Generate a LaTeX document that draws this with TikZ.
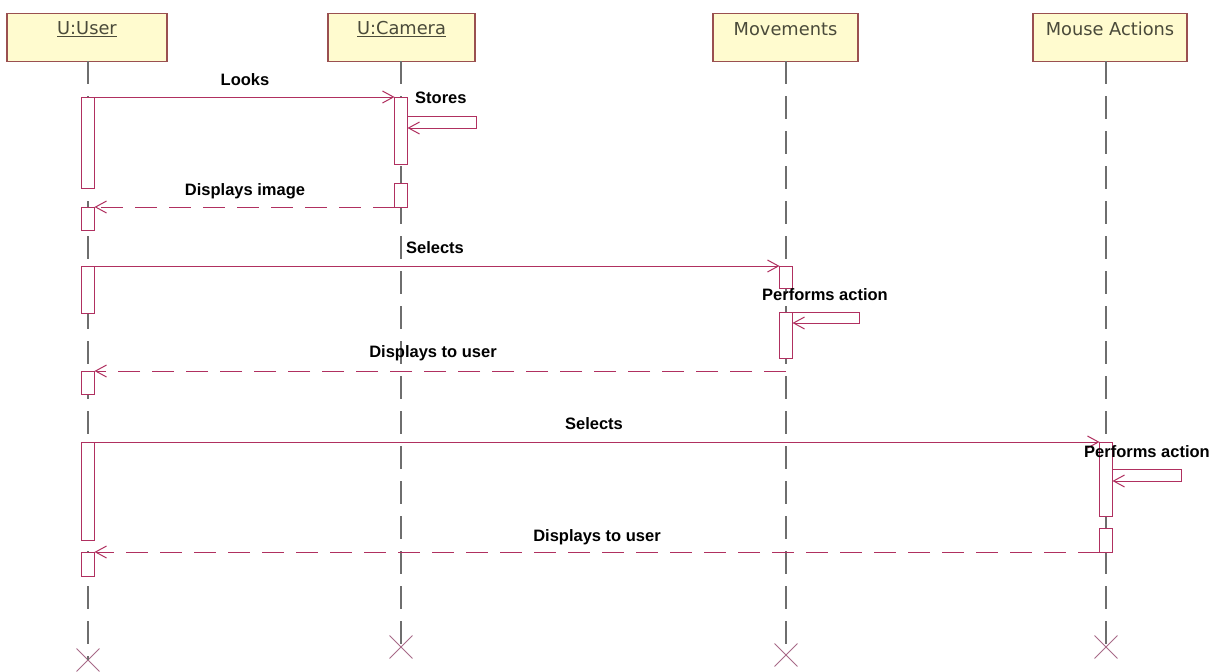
\documentclass[tikz,border=0pt]{standalone}
\usepackage{fontspec}
\setmainfont{Liberation Sans}
\newfontfamily\headfont{DejaVu Sans}
\usetikzlibrary{arrows.meta,shapes.misc}
\definecolor{msgc}{HTML}{B03060}
\definecolor{headfill}{HTML}{FFFBCF}
\definecolor{headdraw}{HTML}{9A5050}
\definecolor{lifec}{HTML}{6E6E6E}
\definecolor{xc}{HTML}{A86A88}
\definecolor{headtext}{HTML}{4A4A3A}
\begin{document}
\begin{tikzpicture}[x=1pt,y=-1pt,
  head/.style={draw=headdraw, fill=headfill, line width=1.2pt, minimum height=48pt, inner sep=0pt, anchor=north},
  headlbl/.style={inner sep=0pt, text=headtext, font=\headfont\fontsize{17.8}{20}\selectfont},
  life/.style={draw=lifec, line width=1.3pt, dash pattern=on 23pt off 12pt},
  act/.style={draw=msgc, fill=white, line width=1pt, minimum width=13pt, inner sep=0pt, outer sep=0pt, anchor=north},
  endx/.style={draw=xc, cross out, line width=0.9pt, minimum size=22pt, inner sep=0pt},
  msg/.style={draw=msgc, line width=1pt, -{Straight Barb[length=11pt,width=12pt]}},
  ret/.style={msg, dash pattern=on 22pt off 12pt},
  lbl/.style={inner sep=0pt, font=\bfseries\fontsize{16.5}{18}\selectfont}
]
\fill[white] (0,0) rectangle (1213,672);
\useasboundingbox (0,0) rectangle (1213,672);

% heads
\node[head, minimum width=160pt] (hU) at (87,13) {};
\node[head, minimum width=147pt] (hC) at (401.5,13) {};
\node[head, minimum width=145pt] (hM) at (785.5,13) {};
\node[head, minimum width=154pt] (hK) at (1110,13) {};
\node[headlbl] (tU) at (87,29) {\underline{U:User}};
\node[headlbl] (tC) at (401.5,29) {\underline{U:Camera}};
\node[headlbl] (tM) at (785.5,29) {Movements};
\node[headlbl] (tK) at (1110,29) {Mouse Actions};

% end marks
\node[endx] (xU) at (88,660) {};
\node[endx] (xC) at (401,647) {};
\node[endx] (xM) at (786,655) {};
\node[endx] (xK) at (1106,647) {};

% lifelines
\draw[life] (88,61) -- (xU.center);
\draw[life] (401,61) -- (xC.center);
\draw[life] (786,61) -- (xM.center);
\draw[life] (1106,61) -- (xK.center);

% activations
\node[act, minimum height=91pt] (a1) at (88,97) {};
\node[act, minimum height=23pt] (a2) at (88,207) {};
\node[act, minimum height=47pt] (a3) at (88,266) {};
\node[act, minimum height=23pt] (a4) at (88,371) {};
\node[act, minimum height=98pt] (a5) at (88,442) {};
\node[act, minimum height=24pt] (a6) at (88,552) {};
\node[act, minimum height=67pt] (c1) at (401,97) {};
\node[act, minimum height=24pt] (c2) at (401,183) {};
\node[act, minimum height=22pt] (m1) at (786,266) {};
\node[act, minimum height=46pt] (m2) at (786,312) {};
\node[act, minimum height=74pt] (k1) at (1106,442) {};
\node[act, minimum height=24pt] (k2) at (1106,528) {};

\coordinate (r1) at (786,371);

% messages
\draw[msg] (a1.north east) -- (c1.north west);
\draw[msg] ([yshift=-19pt]c1.north east) -- ++(69,0) -- ++(0,12) -- ++(-69,0);
\draw[ret] (c2.south west) -- (a2.north east);
\draw[msg] (a3.north east) -- (m1.north west);
\draw[msg] (m2.north east) -- ++(67,0) -- ++(0,11) -- ++(-67,0);
\draw[ret] (r1) -- (a4.north east);
\draw[msg] (a5.north east) -- (k1.north west);
\draw[msg] ([yshift=-27pt]k1.north east) -- ++(69,0) -- ++(0,12) -- ++(-69,0);
\draw[ret] (k2.south west) -- (a6.north east);

% labels
\node[lbl] (l1) at (245,80) {Looks};
\node[lbl, anchor=west] (l2) at (415,98) {Stores};
\node[lbl] (l3) at (245,191) {Displays image};
\node[lbl] (l4) at (435,248) {Selects};
\node[lbl] (l5) at (825,295) {Performs action};
\node[lbl] (l6) at (433,353) {Displays to user};
\node[lbl] (l7) at (594,424) {Selects};
\node[lbl] (l8) at (1147,452) {Performs action};
\node[lbl] (l9) at (597,537) {Displays to user};
\end{tikzpicture}
\end{document}
